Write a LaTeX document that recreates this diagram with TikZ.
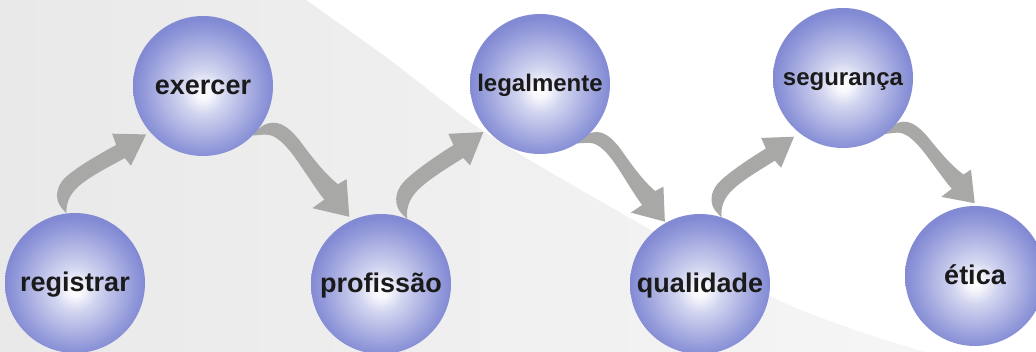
\documentclass[tikz,border=0pt]{standalone}
\usepackage{fontspec}
\setmainfont{Liberation Sans}
\definecolor{ballblue}{RGB}{130,138,212}
\definecolor{arrowgray}{RGB}{168,168,166}
\definecolor{bgdark}{RGB}{233,233,233}
\definecolor{bglight}{RGB}{246,246,246}
\definecolor{labeltext}{RGB}{26,26,26}
\pgfdeclareradialshading{ballshade}{\pgfpoint{0bp}{-2.5bp}}{color(0bp)=(white); color(2.5bp)=(white!94!ballblue); color(8bp)=(ballblue!36!white); color(15bp)=(ballblue!63!white); color(21bp)=(ballblue!86!white); color(25bp)=(ballblue); color(50bp)=(ballblue)}
\pgfdeclarelayer{bg}
\pgfsetlayers{bg,main}
\newcommand\uparrowpath{(0,0) .. controls (-0.5,-12) and (5,-22) .. (17,-30.5) .. controls (28,-38.5) and (44,-46.5) .. (59.3,-54.4) -- (65.3,-46.7) -- (81,-77.7) -- (47,-79) -- (51,-67.7) .. controls (36,-60) and (16,-49) .. (3,-39) .. controls (-8,-31) and (-12,-19) .. (-7,-9) .. controls (-4,-4) and (-1,-1.5) .. cycle}
\newcommand\downarrowpath{(0,0) .. controls (6,-8) and (13,-12.5) .. (20,-12.5) .. controls (30,-12.5) and (38,-5) .. (46,5) .. controls (58,21) and (70,37) .. (83.3,47.5) -- (91.7,42.5) -- (94.3,79.2) -- (58.3,70.8) -- (70,62.5) .. controls (60,50) and (48,30) .. (38,17) .. controls (30,7) and (22,-0.5) .. (14,-0.8) .. controls (8,-1) and (3,0) .. cycle}
\begin{document}
\begin{tikzpicture}[x=1pt,y=-1pt,
  ball/.style={circle, minimum size=140pt, inner sep=0pt, outer sep=0pt, shade, shading=ballshade,
    text=labeltext, font=\bfseries\fontsize{27}{27}\selectfont, text height=20pt, text depth=2pt},
  smallball/.style={ball, font=\bfseries\fontsize{24}{24}\selectfont, text height=18pt, text depth=2pt},
  flow/.style={fill=arrowgray}]
\useasboundingbox (0,0) rectangle (1036,352);

\node[ball] (registrar) at (75,283) {registrar};
\node[ball] (exercer) at (203,86) {exercer};
\node[ball] (profissao) at (381,284) {profissão};
\node[smallball] (legalmente) at (540,84) {legalmente};
\node[ball] (qualidade) at (700,284) {qualidade};
\node[smallball] (seguranca) at (843,78) {segurança};
\node[ball] (etica) at (975,276) {ética};

\begin{pgfonlayer}{bg}
\fill[white] (0,0) rectangle (1036,352);
\shade[left color=bgdark, right color=bglight] (0,0) -- plot[smooth] coordinates {(306,0) (390,60) (483,131) (600,201) (770,296) (870,335) (960,362)} -- (0,362) -- cycle;
\fill[flow, shift={(registrar.97)}, rotate=1] \uparrowpath;
\fill[flow, shift={(profissao.68)}, rotate=5, scale=1.03] \uparrowpath;
\fill[flow, shift={(qualidade.72)}, rotate=4.3, scale=0.966] \uparrowpath;
\fill[flow, shift={(exercer.-45)}, scale=1.026] \downarrowpath;
\fill[flow, shift={(legalmente.-58)}, rotate=-1.7, scale=0.955] \downarrowpath;
\fill[flow, shift={(seguranca.-53)}, rotate=2.3, scale=0.92] \downarrowpath;
\end{pgfonlayer}
\end{tikzpicture}
\end{document}
